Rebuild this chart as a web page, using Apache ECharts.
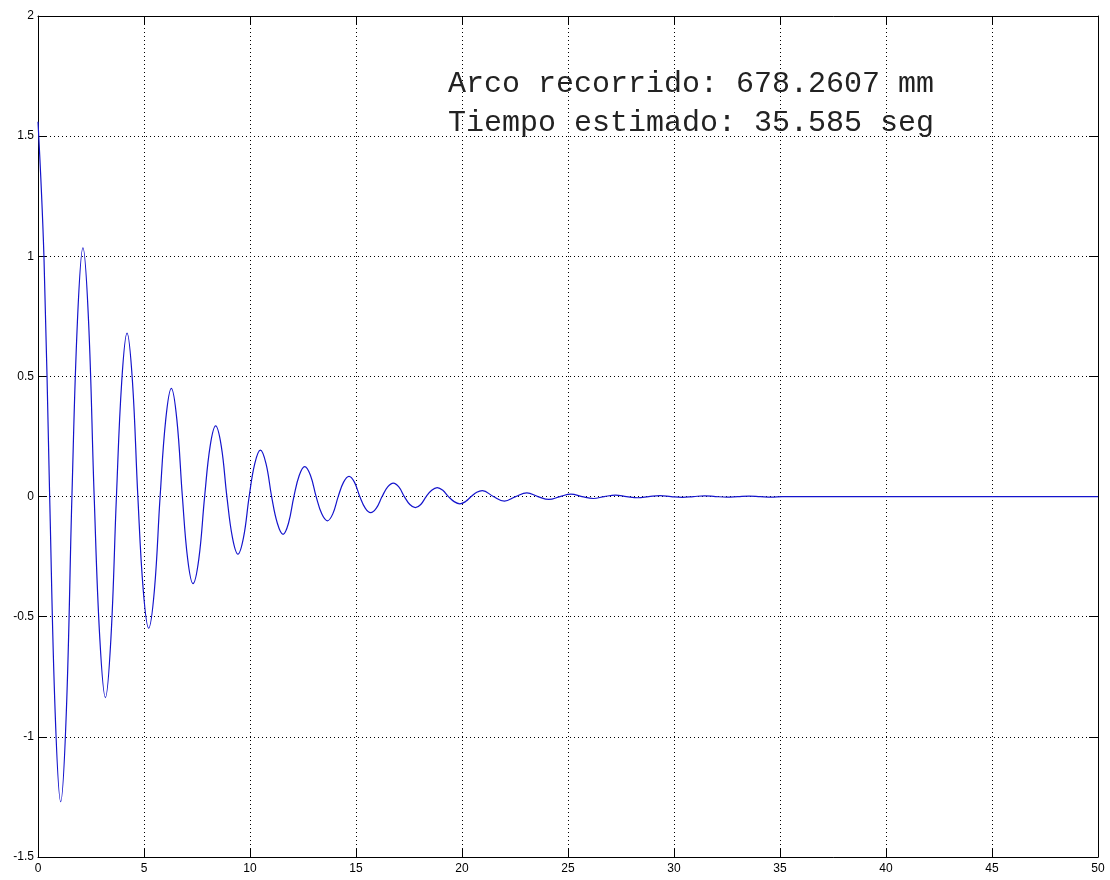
<!DOCTYPE html>
<html>
<head>
<meta charset="utf-8">
<script src="https://cdn.jsdelivr.net/npm/echarts@6/dist/echarts.min.js"></script>
<style>html,body{margin:0;padding:0;background:#fff}#c{width:1110px;height:880px}</style>
</head>
<body>
<div id="c"></div>
<script>
// Time (s) and angle values (extrema, zero crossings, mid-slope points)
var timeS = [0, 0.28, 0.55, 0.81, 1.07, 1.335, 1.6, 1.86, 2.12, 2.385, 2.65, 2.915, 3.18, 3.44, 3.7, 3.95, 4.2, 4.455, 4.71, 4.965, 5.22, 5.49, 5.76, 6.025, 6.29, 6.55, 6.81, 7.06, 7.31, 7.585, 7.86, 8.12, 8.38, 8.645, 8.91, 9.17, 9.43, 9.695, 9.96, 10.225, 10.49, 10.755, 11.02, 11.29, 11.56, 11.815, 12.07, 12.325, 12.58, 12.85, 13.12, 13.385, 13.65, 13.905, 14.16, 14.415, 14.67, 14.925, 15.18, 15.435, 15.69, 15.96, 16.23, 16.495, 16.76, 17.02, 17.28, 17.54, 17.80, 18.055, 18.31, 18.57, 18.83, 19.095, 19.36, 19.63, 19.9, 20.165, 20.43, 20.695, 20.96,
  21.48, 22.0, 22.53, 23.06, 23.58, 24.1, 24.62, 25.14, 25.66, 26.19, 26.71, 27.24, 27.76, 28.29, 28.81, 29.34, 29.86, 30.39, 30.91, 31.44, 31.96, 32.49, 33.01, 33.54, 34.06, 34.59, 35.1, 35.585, 50];
var angle = [1.56, 1.0, 0, -0.90, -1.27, -0.90, 0, 0.73, 1.035, 0.73, 0, -0.59, -0.837, -0.59, 0, 0.48, 0.68, 0.48, 0, -0.39, -0.548, -0.39, 0, 0.32, 0.45, 0.32, 0, -0.26, -0.362, -0.26, 0, 0.21, 0.294, 0.21, 0, -0.17, -0.24, -0.17, 0, 0.137, 0.193, 0.137, 0, -0.111, -0.157, -0.111, 0, 0.089, 0.125, 0.089, 0, -0.072, -0.101, -0.072, 0, 0.060, 0.084, 0.060, 0, -0.048, -0.067, -0.048, 0, 0.040, 0.056, 0.040, 0, -0.033, -0.046, -0.033, 0, 0.026, 0.037, 0.026, 0, -0.021, -0.030, -0.021, 0, 0.018, 0.025,
  0, -0.019, 0, 0.015, 0, -0.012, 0, 0.010, 0, -0.008, 0, 0.006, 0, -0.005, 0, 0.004, 0, -0.003, 0, 0.003, 0, -0.002, 0, 0.002, 0, -0.002, 0, 0, 0];
var xTicks = {min: 0, max: 50, interval: 5};
var yTicks = {min: -1.5, max: 2, interval: 0.5};
var annotation = ['Arco recorrido: 678.2607 mm', 'Tiempo estimado: 35.585 seg'];

var data = timeS.map(function (t, i) { return [t, angle[i]]; });
var chart = echarts.init(document.getElementById('c'), null, {renderer: 'canvas'});
var axisLine = {show: true, onZero: false, lineStyle: {color: '#000', width: 1}};
var tick = {show: true, inside: true, length: 9, lineStyle: {color: '#000', width: 1}};
var split = {show: true, lineStyle: {color: '#000', width: 1, type: [1, 3]}};
var lbl = {fontFamily: 'Liberation Sans, Arial, sans-serif', fontSize: 12, color: '#000'};
chart.setOption({
  animation: false,
  backgroundColor: '#fff',
  grid: {left: 38, right: 12, top: 16, bottom: 23, containLabel: false},
  title: {
    text: annotation.join('\n'), left: 443, top: 60,
    textStyle: {fontFamily: 'Liberation Mono, Courier New, monospace', fontSize: 30, fontWeight: 'normal', color: '#222', lineHeight: 39}
  },
  xAxis: [
    {type: 'value', min: xTicks.min, max: xTicks.max, interval: xTicks.interval, position: 'bottom',
     axisLine: axisLine, axisTick: tick, splitLine: split, axisLabel: Object.assign({margin: 6}, lbl)},
    {type: 'value', min: xTicks.min, max: xTicks.max, interval: xTicks.interval, position: 'top',
     axisLine: axisLine, axisTick: tick, splitLine: {show: false}, axisLabel: {show: false}}
  ],
  yAxis: [
    {type: 'value', min: yTicks.min, max: yTicks.max, interval: yTicks.interval, position: 'left',
     axisLine: axisLine, axisTick: tick, splitLine: split, axisLabel: Object.assign({margin: 4}, lbl)},
    {type: 'value', min: yTicks.min, max: yTicks.max, interval: yTicks.interval, position: 'right',
     axisLine: axisLine, axisTick: tick, splitLine: {show: false}, axisLabel: {show: false}}
  ],
  series: [{
    type: 'line', xAxisIndex: 0, yAxisIndex: 0, data: data, smooth: 0.4, showSymbol: false,
    lineStyle: {color: '#1414cc', width: 1.2}
  }]
});
</script>
</body>
</html>
